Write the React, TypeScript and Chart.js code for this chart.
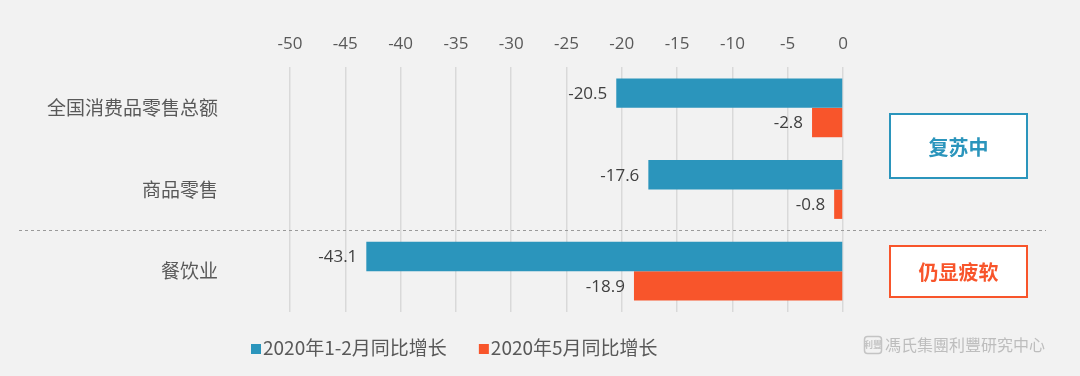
import React, { useEffect, useRef } from 'react';
import { Chart, registerables } from 'chart.js';

Chart.register(...registerables);

const categories = ['全国消费品零售总额', '商品零售', '餐饮业'];
const seriesNames = ['2020年1-2月同比增长', '2020年5月同比增长'];
const janFebValues = [-20.5, -17.6, -43.1];
const mayValues = [-2.8, -0.8, -18.9];
const seriesColors = ['#2b95bc', '#f8552b'];
const xMin = -50;
const xMax = 0;
const xStep = 5;
const groupLabels = ['复苏中', '仍显疲软'];
const watermark = '馮氏集團利豐研究中心';

const NUM_FONT = '"Open Sans", "Noto Sans", sans-serif';
const CJK_FONT = '"Noto Sans CJK SC", "Noto Sans", sans-serif';

const overlayPlugin = {
  id: 'overlay',
  afterDatasetsDraw(chart: any) {
    const ctx = chart.ctx;
    ctx.save();
    ctx.font = `17px ${NUM_FONT}`;
    ctx.fillStyle = '#404040';
    ctx.textAlign = 'right';
    ctx.textBaseline = 'middle';
    chart.data.datasets.forEach((ds: any, di: number) => {
      const meta = chart.getDatasetMeta(di);
      meta.data.forEach((el: any, i: number) => {
        const left = Math.min(el.x, el.base);
        ctx.fillText(String(ds.data[i].toFixed(1)), left - 9, el.y + 1);
      });
    });
    ctx.restore();
  },
  afterDraw(chart: any) {
    const ctx = chart.ctx;
    const y = chart.scales.y;
    ctx.save();

    // dashed separator between groups
    const sepY = Math.round((y.getPixelForTick(1) + y.getPixelForTick(2)) / 2) + 0.5;
    ctx.strokeStyle = '#9a9a9a';
    ctx.lineWidth = 1;
    ctx.setLineDash([3, 3]);
    ctx.beginPath();
    ctx.moveTo(19, sepY);
    ctx.lineTo(1046, sepY);
    ctx.stroke();
    ctx.setLineDash([]);

    // group boxes
    const boxes = [
      { label: groupLabels[0], color: seriesColors[0], cy: (y.getPixelForTick(0) + y.getPixelForTick(1)) / 2 - 3, h: 64 },
      { label: groupLabels[1], color: seriesColors[1], cy: y.getPixelForTick(2), h: 51 },
    ];
    boxes.forEach((b) => {
      const bx = 890, bw = 137;
      const by = Math.round(b.cy - b.h / 2);
      ctx.fillStyle = '#ffffff';
      ctx.fillRect(bx, by, bw, b.h);
      ctx.strokeStyle = b.color;
      ctx.lineWidth = 2;
      ctx.strokeRect(bx, by, bw, b.h);
      ctx.fillStyle = b.color;
      ctx.font = `bold 20px ${CJK_FONT}`;
      ctx.textAlign = 'center';
      ctx.textBaseline = 'middle';
      ctx.fillText(b.label, bx + bw / 2, by + b.h / 2 + 1);
    });

    // legend
    let lx = 251;
    const ly = 348;
    ctx.font = `19px ${CJK_FONT}`;
    ctx.textAlign = 'left';
    ctx.textBaseline = 'middle';
    seriesNames.forEach((name, i) => {
      ctx.fillStyle = seriesColors[i];
      ctx.fillRect(lx, ly - 4, 10, 10);
      ctx.fillStyle = '#595959';
      ctx.fillText(name, lx + 12, ly);
      lx += 12 + ctx.measureText(name).width + 32;
    });

    // watermark
    ctx.strokeStyle = '#c4c4c4';
    ctx.lineWidth = 1.5;
    ctx.beginPath();
    ctx.roundRect(864.5, 336.5, 17, 17, 3);
    ctx.stroke();
    ctx.fillStyle = '#c4c4c4';
    ctx.font = `bold 9px ${CJK_FONT}`;
    ctx.textAlign = 'center';
    ctx.fillText('利豐', 873, 345);
    ctx.font = `16px "Noto Sans CJK TC", ${CJK_FONT}`;
    ctx.textAlign = 'left';
    ctx.fillStyle = '#bdbdbd';
    ctx.fillText(watermark, 885, 345);

    ctx.restore();
  },
};

export default function App() {
  const ref = useRef<HTMLCanvasElement>(null);
  useEffect(() => {
    if (!ref.current) return;
    const chart = new Chart(ref.current, {
      type: 'bar',
      data: {
        labels: categories,
        datasets: [
          { label: seriesNames[0], data: janFebValues, backgroundColor: seriesColors[0] },
          { label: seriesNames[1], data: mayValues, backgroundColor: seriesColors[1] },
        ],
      },
      options: {
        indexAxis: 'y',
        animation: false,
        responsive: false,
        maintainAspectRatio: false,
        layout: { padding: { left: 0, right: 237, top: 0, bottom: 64 } },
        datasets: { bar: { barPercentage: 1, categoryPercentage: 0.72 } },
        plugins: { legend: { display: false }, tooltip: { enabled: false } },
        scales: {
          x: {
            type: 'linear',
            position: 'top',
            min: xMin,
            max: xMax,
            ticks: { stepSize: xStep, color: '#595959', font: { family: NUM_FONT, size: 17 }, padding: 13 },
            grid: { color: '#d9d9d9', drawTicks: false, lineWidth: 1.5 },
            border: { display: false },
            afterFit: (s: any) => { s.height = 67; s.paddingLeft = 0; s.paddingRight = 0; },
          },
          y: {
            type: 'category',
            ticks: { color: '#595959', font: { family: CJK_FONT, size: 19 }, padding: 72 },
            grid: { display: false, drawTicks: false },
            border: { display: false },
            afterFit: (s: any) => { s.width = 290; s.paddingTop = 0; s.paddingBottom = 0; },
          },
        },
      },
      plugins: [overlayPlugin],
    } as any);
    return () => chart.destroy();
  }, []);
  return (
    <div style={{ position: 'absolute', left: 0, top: 0, width: 1080, height: 376, background: '#f2f2f2' }}>
      <canvas ref={ref} width={1080} height={376} />
    </div>
  );
}
